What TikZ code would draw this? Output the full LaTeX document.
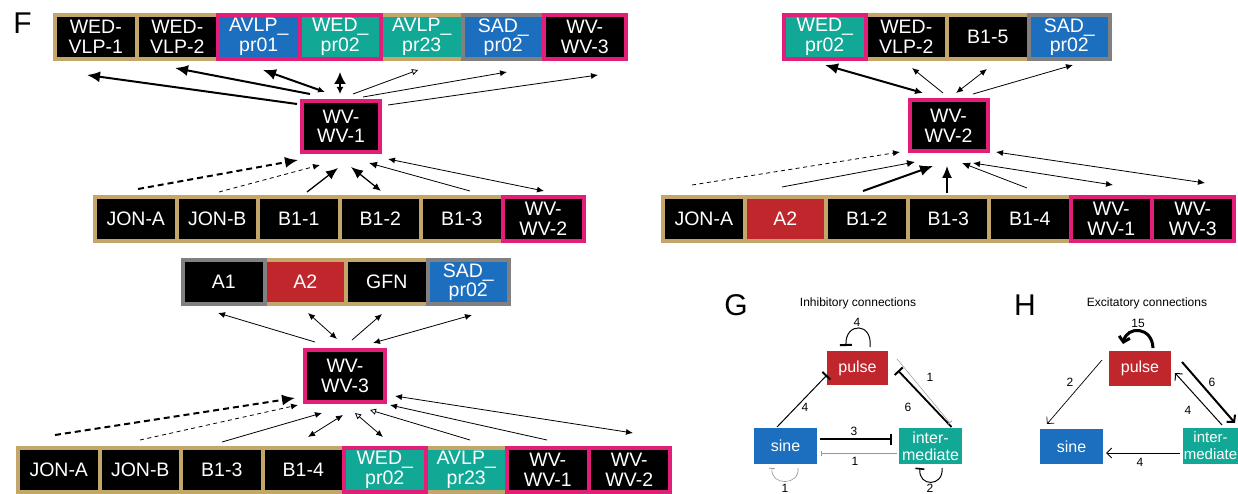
\documentclass[tikz,border=0pt]{standalone}
\usepackage{fontspec}
\setmainfont{Liberation Sans}
\usetikzlibrary{arrows.meta}
\definecolor{tan}{RGB}{196,166,106}
\definecolor{pk}{RGB}{226,30,120}
\definecolor{gr}{RGB}{128,128,128}
\definecolor{bl}{RGB}{28,110,190}
\definecolor{tl}{RGB}{18,168,150}
\definecolor{rd}{RGB}{192,39,45}
\definecolor{lgr}{RGB}{150,150,150}
\tikzset{
  cell/.style={draw=tan, line width=4pt, fill=black, minimum width=81.5pt, minimum height=44pt,
    inner sep=0pt, text=white, align=center, font=\fontsize{19.5}{19.5}\selectfont},
  pcell/.style={cell, draw=pk},
  gcell/.style={cell, draw=gr},
  hub/.style={cell, draw=pk, minimum width=78pt, minimum height=51pt},
  gbox/.style={draw=none, inner sep=0pt, text=white, align=center, font=\fontsize{16}{17}\selectfont},
  panel/.style={inner sep=0pt, font=\fontsize{30}{30}\selectfont},
  title/.style={inner sep=0pt, font=\fontsize{12}{12}\selectfont},
  num/.style={inner sep=0pt, font=\fontsize{12}{12}\selectfont},
  thk/.style={line width=2pt},
  med/.style={line width=1.3pt},
  thn/.style={line width=0.8pt},
  dsh/.style={dash pattern=on 6pt off 4pt},
  dshs/.style={dash pattern=on 4pt off 3.5pt},
}
\begin{document}
\begin{tikzpicture}[x=1pt,y=-1pt]
\useasboundingbox (0,0) rectangle (1238,494);
\fill[white] (0,0) rectangle (1238,494);

% ---------------- Panel F, WV-WV-1 ----------------
\node[panel] (lF) at (22.5,23.5) {F};
\node[cell] (a1) at (95.75,37) {WED-\\VLP-1};
\node[cell] (a2) at (177.25,37) {WED-\\VLP-2};
\node[cell, fill=tl] (a5) at (421.75,37) {AVLP\_\\pr23};
\node[gcell, fill=bl] (a6) at (503.25,37) {SAD\_\\pr02};
\node[pcell, fill=bl] (a3) at (258.75,37) {AVLP\_\\pr01};
\node[pcell, fill=tl] (a4) at (340.25,37) {WED\_\\pr02};
\node[pcell] (a7) at (584.75,37) {WV-\\WV-3};
\node[hub] (h1) at (341,126.5) {WV-\\WV-1};
\node[cell] (b1) at (135.75,219) {JON-A};
\node[cell] (b2) at (217.25,219) {JON-B};
\node[cell] (b3) at (298.75,219) {B1-1};
\node[cell] (b4) at (380.25,219) {B1-2};
\node[cell] (b5) at (461.75,219) {B1-3};
\node[pcell] (b6) at (543.25,219) {WV-\\WV-2};

\coordinate (f1) at (297,104); \coordinate (t1) at (87,75);
\draw[thk,-{Latex[length=13pt,width=11pt]}] (f1) -- (t1);
\coordinate (f2) at (310,94); \coordinate (t2) at (175,68);
\draw[thk,-{Latex[length=13pt,width=11pt]}] (f2) -- (t2);
\coordinate (f3) at (325,92); \coordinate (t3) at (263,70);
\draw[thk,{Latex[length=7pt,width=6pt]}-{Latex[length=13pt,width=11pt]}] (f3) -- (t3);
\coordinate (f4) at (340,94); \coordinate (t4) at (340,72);
\draw[thk,{Latex[length=7pt,width=7pt]}-{Latex[length=12pt,width=12pt]}] (f4) -- (t4);
\coordinate (f5) at (353,94); \coordinate (t5) at (418,70);
\draw[thn,-{Triangle[open,length=6pt,width=6pt]}] (f5) -- (t5);
\coordinate (f6) at (363,97); \coordinate (t6) at (507,72);
\draw[thn,-{Latex[length=7pt,width=6pt]}] (f6) -- (t6);
\coordinate (f7) at (388,105); \coordinate (t7) at (598,75);
\draw[thn,-{Latex[length=7pt,width=6pt]}] (f7) -- (t7);

\coordinate (f8) at (138,189); \coordinate (t8) at (298,160);
\draw[thk,dsh,-{Latex[length=13pt,width=11pt]}] (f8) -- (t8);
\coordinate (f9) at (219,192); \coordinate (t9) at (320,165);
\draw[thn,dshs,-{Latex[length=7pt,width=6pt]}] (f9) -- (t9);
\coordinate (f10) at (307,192); \coordinate (t10) at (338,168);
\draw[med,-{Latex[length=12pt,width=10pt]}] (f10) -- (t10);
\coordinate (f11) at (351,167); \coordinate (t11) at (381,191);
\draw[med,{Latex[length=12pt,width=10pt]}-{Latex[length=8pt,width=7pt]}] (f11) -- (t11);
\coordinate (f12) at (470,191); \coordinate (t12) at (369,163);
\draw[thn,-{Latex[length=8pt,width=7pt]}] (f12) -- (t12);
\coordinate (f13) at (388,159); \coordinate (t13) at (544,191);
\draw[thn,{Latex[length=7pt,width=6pt]}-{Latex[length=7pt,width=6pt]}] (f13) -- (t13);

% ---------------- Panel F, WV-WV-2 ----------------
\node[cell] (c2) at (906.25,37) {WED-\\VLP-2};
\node[cell] (c3) at (987.75,37) {B1-5};
\node[gcell, fill=bl] (c4) at (1069.25,37) {SAD\_\\pr02};
\node[pcell, fill=tl] (c1) at (824.75,37) {WED\_\\pr02};
\node[hub] (h2) at (948.5,126) {WV-\\WV-2};
\node[cell] (d1) at (703.75,219) {JON-A};
\node[cell, fill=rd] (d2) at (785.25,219) {A2};
\node[cell] (d3) at (866.75,219) {B1-2};
\node[cell] (d4) at (948.25,219) {B1-3};
\node[cell] (d5) at (1029.75,219) {B1-4};
\node[pcell] (d6) at (1111.25,219) {WV-\\WV-1};
\node[pcell] (d7) at (1192.75,219) {WV-\\WV-3};

\coordinate (f14) at (923,93); \coordinate (t14) at (825,65);
\draw[thk,{Latex[length=8pt,width=7pt]}-{Latex[length=13pt,width=11pt]}] (f14) -- (t14);
\coordinate (f15) at (943,93); \coordinate (t15) at (912,68);
\draw[thn,-{Latex[length=7pt,width=6pt]}] (f15) -- (t15);
\coordinate (f16) at (956,93); \coordinate (t16) at (987,69);
\draw[thn,{Latex[length=7pt,width=6pt]}-{Latex[length=7pt,width=6pt]}] (f16) -- (t16);
\coordinate (f17) at (973,94); \coordinate (t17) at (1073,65);
\draw[thn,-{Latex[length=7pt,width=6pt]}] (f17) -- (t17);
\coordinate (f18) at (692,185); \coordinate (t18) at (900,152);
\draw[thn,dshs,-{Latex[length=7pt,width=6pt]}] (f18) -- (t18);
\coordinate (f19) at (782,187); \coordinate (t19) at (915,162);
\draw[thn,-{Latex[length=8pt,width=7pt]}] (f19) -- (t19);
\coordinate (f20) at (863,191); \coordinate (t20) at (933,166);
\draw[thk,-{Latex[length=13pt,width=11pt]}] (f20) -- (t20);
\coordinate (f21) at (947,193); \coordinate (t21) at (947,166);
\draw[med,-{Latex[length=12pt,width=10pt]}] (f21) -- (t21);
\coordinate (f22) at (1027,188); \coordinate (t22) at (962,163);
\draw[thn,-{Latex[length=8pt,width=7pt]}] (f22) -- (t22);
\coordinate (f23) at (973,163); \coordinate (t23) at (1113,185);
\draw[thn,{Latex[length=7pt,width=6pt]}-{Latex[length=7pt,width=6pt]}] (f23) -- (t23);
\coordinate (f24) at (996,152); \coordinate (t24) at (1205,183);
\draw[thn,{Latex[length=7pt,width=6pt]}-{Latex[length=7pt,width=6pt]}] (f24) -- (t24);

% ---------------- Panel F, WV-WV-3 ----------------
\node[cell, fill=rd] (e2) at (305.25,282) {A2};
\node[cell] (e3) at (386.75,282) {GFN};
\node[gcell] (e1) at (223.75,282) {A1};
\node[gcell, fill=bl] (e4) at (468.25,282) {SAD\_\\pr02};
\node[hub, minimum width=80pt, minimum height=52pt] (h3) at (345,376) {WV-\\WV-3};
\node[cell] (g1) at (58.75,470) {JON-A};
\node[cell] (g2) at (140.25,470) {JON-B};
\node[cell] (g3) at (221.75,470) {B1-3};
\node[cell] (g4) at (303.25,470) {B1-4};
\node[cell, fill=tl] (g6) at (466.25,470) {AVLP\_\\pr23};
\node[pcell, fill=tl] (g5) at (384.75,470) {WED\_\\pr02};
\node[pcell] (g7) at (547.75,470) {WV-\\WV-1};
\node[pcell] (g8) at (629.25,470) {WV-\\WV-2};

\coordinate (f25) at (315,342); \coordinate (t25) at (218,313);
\draw[thn,-{Latex[length=7pt,width=6pt]}] (f25) -- (t25);
\coordinate (f26) at (337,339); \coordinate (t26) at (308,313);
\draw[thn,{Latex[length=7pt,width=6pt]}-{Latex[length=7pt,width=6pt]}] (f26) -- (t26);
\coordinate (f27) at (352,340); \coordinate (t27) at (382,314);
\draw[thn,-{Latex[length=7pt,width=6pt]}] (f27) -- (t27);
\coordinate (f28) at (373,343); \coordinate (t28) at (472,315);
\draw[thn,{Latex[length=7pt,width=6pt]}-{Latex[length=7pt,width=6pt]}] (f28) -- (t28);
\coordinate (f29) at (55,435); \coordinate (t29) at (295,398);
\draw[thk,dsh,-{Latex[length=13pt,width=11pt]}] (f29) -- (t29);
\coordinate (f30) at (140,440); \coordinate (t30) at (298,405);
\draw[thn,dshs,-{Latex[length=7pt,width=6pt]}] (f30) -- (t30);
\coordinate (f31) at (222,442); \coordinate (t31) at (322,413);
\draw[thn,-{Latex[length=7pt,width=6pt]}] (f31) -- (t31);
\coordinate (f32) at (308,437); \coordinate (t32) at (343,415);
\draw[thn,{Latex[length=7pt,width=6pt]}-{Latex[length=7pt,width=6pt]}] (f32) -- (t32);
\coordinate (f33) at (383,437); \coordinate (t33) at (355,413);
\draw[thn,{Latex[length=7pt,width=6pt]}-{Triangle[open,length=6pt,width=6pt]}] (f33) -- (t33);
\coordinate (f34) at (470,440); \coordinate (t34) at (370,410);
\draw[thn,-{Triangle[open,length=6pt,width=6pt]}] (f34) -- (t34);
\coordinate (f35) at (547,440); \coordinate (t35) at (390,405);
\draw[thn,-{Latex[length=7pt,width=6pt]}] (f35) -- (t35);
\coordinate (f36) at (395,396); \coordinate (t36) at (633,433);
\draw[thn,{Latex[length=7pt,width=6pt]}-{Latex[length=7pt,width=6pt]}] (f36) -- (t36);

% ---------------- Panel G ----------------
\node[panel] (lG) at (736,305) {G};
\node[title] (tG) at (858,303) {Inhibitory connections};
\node[gbox, fill=rd, minimum width=61pt, minimum height=34pt] (gp) at (857.5,368) {pulse};
\node[gbox, fill=bl, minimum width=63pt, minimum height=36pt] (gs) at (785.5,446) {sine};
\node[gbox, fill=tl, minimum width=63pt, minimum height=36pt] (gi) at (930.5,446) {inter-\\mediate};

\coordinate (gps1) at (777,427); \coordinate (gps2) at (827,375);
\draw[line width=1pt,-{Bar[width=11pt,line width=2pt]}] (gps1) -- (gps2);
\coordinate (gip1) at (951.5,427); \coordinate (gip2) at (898,370.5);
\draw[line width=1.8pt,-{Bar[width=11pt,line width=2pt]}] (gip1) -- (gip2);
\coordinate (gpi1) at (897,359); \coordinate (gpi2) at (950,423);
\draw[lgr,line width=0.5pt,-{Bar[width=6pt,line width=0.8pt]}] (gpi1) -- (gpi2);
\coordinate (gsi1) at (820,439); \coordinate (gsi2) at (892,439);
\draw[line width=1.2pt,-{Bar[width=11pt,line width=1.6pt]}] (gsi1) -- (gsi2);
\coordinate (gis1) at (897,453); \coordinate (gis2) at (821,453);
\draw[lgr,line width=0.5pt,-{Bar[width=5pt,line width=0.8pt]}] (gis1) -- (gis2);
\coordinate (gpl1) at (870,347); \coordinate (gpl2) at (846,346);
\draw[line width=1pt,-{Bar[width=12pt,line width=2pt]}] (gpl1) .. controls (873,322) and (845,322) .. (gpl2);
\coordinate (gsl1) at (798,468); \coordinate (gsl2) at (772,468);
\draw[lgr,line width=0.6pt,-{Bar[width=6pt,line width=0.8pt]}] (gsl1) .. controls (800,486) and (770,486) .. (gsl2);
\coordinate (gil1) at (942,468); \coordinate (gil2) at (920,468);
\draw[line width=1pt,-{Bar[width=9pt,line width=1.6pt]}] (gil1) .. controls (944,487) and (918,487) .. (gil2);

\node[num] (n1) at (857,322) {4};
\node[num] (n2) at (805,407) {4};
\node[num] (n3) at (908,407) {6};
\node[num] (n4) at (930,377) {1};
\node[num] (n5) at (854,431) {3};
\node[num] (n6) at (855,461) {1};
\node[num] (n7) at (785,488.5) {1};
\node[num] (n8) at (930,488.5) {2};

% ---------------- Panel H ----------------
\node[panel] (lH) at (1025,305) {H};
\node[title] (tH) at (1147,303) {Excitatory connections};
\node[gbox, fill=rd, minimum width=62pt, minimum height=35pt] (hp) at (1140,368.5) {pulse};
\node[gbox, fill=bl, minimum width=63pt, minimum height=35pt] (hs) at (1071.5,446.5) {sine};
\node[gbox, fill=tl, minimum width=55pt, minimum height=36pt, font=\fontsize{15}{17}\selectfont] (hi) at (1210.5,446) {inter-\\mediate};

\coordinate (hpl1) at (1153,348); \coordinate (hpl2) at (1123,344);
\draw[line width=3pt,-{Straight Barb[length=5pt,width=11pt]}] (hpl1) .. controls (1152,326) and (1127,326) .. (hpl2);
\coordinate (hps1) at (1102,360); \coordinate (hps2) at (1047,424);
\draw[line width=0.7pt,-{Straight Barb[length=5pt,width=10pt]}] (hps1) -- (hps2);
\coordinate (hpi1) at (1182,362); \coordinate (hpi2) at (1235,423);
\draw[line width=2pt,-{Straight Barb[length=5pt,width=11pt]}] (hpi1) -- (hpi2);
\coordinate (hip1) at (1222,425); \coordinate (hip2) at (1175,373);
\draw[line width=1pt,-{Straight Barb[length=5pt,width=10pt]}] (hip1) -- (hip2);
\coordinate (his1) at (1180,453); \coordinate (his2) at (1106,453);
\draw[line width=1pt,-{Straight Barb[length=5pt,width=10pt]}] (his1) -- (his2);

\node[num] (m1) at (1138,323) {15};
\node[num] (m2) at (1070,382) {2};
\node[num] (m3) at (1212,382) {6};
\node[num] (m4) at (1188,410) {4};
\node[num] (m5) at (1140,462) {4};
\end{tikzpicture}
\end{document}
